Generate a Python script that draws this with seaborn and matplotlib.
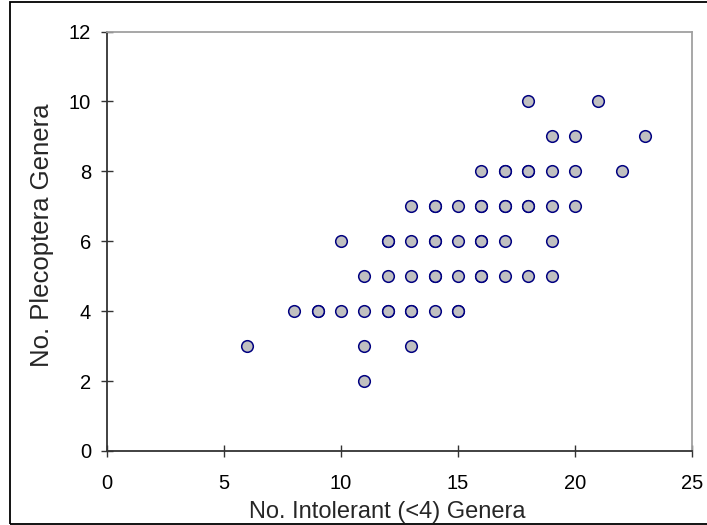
import matplotlib
matplotlib.use("Agg")
import matplotlib.pyplot as plt
import matplotlib.patches as mpatches
import seaborn as sns
import pandas as pd

# Data (duplicates reflect overlapping points)
intolerant = [11,
              6, 11, 13,
              8, 9, 9, 10, 11, 12, 12, 13, 13, 14, 15, 15,
              11, 12, 13, 14, 14, 15, 16, 16, 17, 18, 19,
              10, 12, 12, 13, 14, 14, 15, 16, 16, 17, 19,
              13, 14, 14, 15, 16, 16, 17, 17, 18, 18, 19, 20,
              16, 17, 17, 18, 18, 19, 20, 22,
              19, 20, 23,
              18, 21]
plecoptera = [2,
              3, 3, 3,
              4, 4, 4, 4, 4, 4, 4, 4, 4, 4, 4, 4,
              5, 5, 5, 5, 5, 5, 5, 5, 5, 5, 5,
              6, 6, 6, 6, 6, 6, 6, 6, 6, 6, 6,
              7, 7, 7, 7, 7, 7, 7, 7, 7, 7, 7, 7,
              8, 8, 8, 8, 8, 8, 8, 8,
              9, 9, 9,
              10, 10]
x_ticks = [0, 5, 10, 15, 20, 25]
y_ticks = [0, 2, 4, 6, 8, 10, 12]

df = pd.DataFrame({"x": intolerant, "y": plecoptera})

sns.set_style("white")
plt.rcParams['font.family'] = ['Liberation Sans', 'DejaVu Sans']

W, H = 707, 525
fig = plt.figure(figsize=(W / 100, H / 100), dpi=100)
ax = fig.add_axes([107 / W, (H - 451) / H, (692 - 107) / W, (451 - 31.5) / H])

sns.scatterplot(data=df, x="x", y="y", ax=ax, s=70, color="#C0C0C0",
                edgecolor="#000080", linewidth=1.1, alpha=1.0, zorder=3,
                clip_on=False)

ax.set_xlim(0, 25)
ax.set_ylim(0, 12)
ax.set_xticks(x_ticks)
ax.set_yticks(y_ticks)
ax.tick_params(axis="both", which="major", bottom=True, left=True,
               top=False, right=False, direction="inout", length=9,
               width=1.0, color="#333333", labelsize=14.5,
               labelcolor="black")
ax.tick_params(axis="x", pad=12)
ax.tick_params(axis="y", pad=7)

for side in ["left", "bottom"]:
    ax.spines[side].set_color("#333333")
    ax.spines[side].set_linewidth(1.3)
for side in ["top", "right"]:
    ax.spines[side].set_visible(True)
    ax.spines[side].set_color("#A0A0A0")
    ax.spines[side].set_linewidth(1.3)

ax.set_xlabel("No. Intolerant (<4) Genera", fontsize=17)
ax.set_ylabel("No. Plecoptera Genera", fontsize=18.5)
ax.xaxis.set_label_coords((387.5 - 107) / 585, (451 - 501) / 419.5)
ax.yaxis.set_label_coords((54 - 107) / 585, (451 - 235) / 419.5)

# Outer chart border
border = mpatches.Rectangle((9.5 / W, 1.5 / H), (W + 5) / W, (H - 3.5) / H,
                            transform=fig.transFigure, fill=False,
                            edgecolor="black", linewidth=1.3, clip_on=False)
fig.patches.append(border)

fig.savefig("out.png", dpi=100)
